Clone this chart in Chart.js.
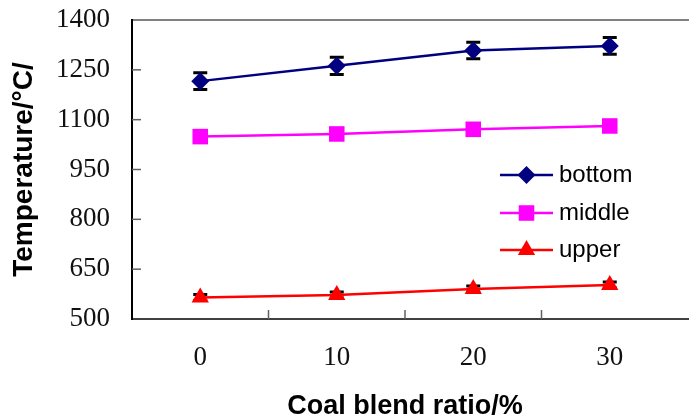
<!DOCTYPE html>
<html>
<head>
<meta charset="utf-8">
<script src="https://cdn.jsdelivr.net/npm/chart.js@4"></script>
<style>
  html, body { margin: 0; padding: 0; background: #fff; }
  #wrap { width: 689px; height: 417px; }
</style>
</head>
<body>
<div id="wrap"><canvas id="tempChart"></canvas></div>
<script>
const categories = ['0', '10', '20', '30'];
const seriesNames = ['bottom', 'middle', 'upper'];
const bottomTemp = [1216, 1262, 1308, 1322];
const middleTemp = [1049, 1057, 1071, 1081];
const upperTemp = [565, 572, 590, 602];
const bottomErr = [25, 26, 25, 25];
const middleErr = [10, 10, 10, 10];
const upperErr = [9, 9, 9, 9];
const yMin = 500, yMax = 1400, yStep = 150;

const errors = [bottomErr, middleErr, upperErr];

// error bars, drawn under the markers
const errorBars = {
  id: 'errorBars',
  beforeDatasetsDraw(chart) {
    const ctx = chart.ctx;
    const y = chart.scales.y;
    ctx.save();
    ctx.strokeStyle = '#000';
    chart.data.datasets.forEach((ds, i) => {
      const meta = chart.getDatasetMeta(i);
      meta.data.forEach((pt, j) => {
        const v = ds.data[j], e = errors[i][j];
        const top = y.getPixelForValue(v + e);
        const bot = y.getPixelForValue(v - e);
        ctx.lineWidth = 2;
        ctx.beginPath();
        ctx.moveTo(pt.x, top); ctx.lineTo(pt.x, bot);
        ctx.stroke();
        ctx.lineWidth = 3;
        ctx.beginPath();
        ctx.moveTo(pt.x - 7, top); ctx.lineTo(pt.x + 7, top);
        ctx.moveTo(pt.x - 7, bot); ctx.lineTo(pt.x + 7, bot);
        ctx.stroke();
      });
    });
    ctx.restore();
  }
};

// frame lines and inward tick marks
const frame = {
  id: 'frame',
  beforeDatasetsDraw(chart) {
    const ctx = chart.ctx;
    const a = chart.chartArea;
    const x = chart.scales.x, y = chart.scales.y;
    ctx.save();
    // top line
    ctx.strokeStyle = '#808080';
    ctx.lineWidth = 2;
    ctx.beginPath();
    ctx.moveTo(a.left, a.top); ctx.lineTo(chart.width, a.top);
    ctx.stroke();
    // bottom axis
    ctx.strokeStyle = '#404040';
    ctx.beginPath();
    ctx.moveTo(a.left, a.bottom); ctx.lineTo(chart.width, a.bottom);
    ctx.stroke();
    // left axis
    ctx.strokeStyle = '#000';
    ctx.beginPath();
    ctx.moveTo(a.left, a.top - 1); ctx.lineTo(a.left, a.bottom + 1);
    ctx.stroke();
    // y ticks
    ctx.strokeStyle = '#606060';
    ctx.lineWidth = 1.5;
    y.ticks.forEach(t => {
      if (t.value <= yMin || t.value >= yMax) return;
      const py = y.getPixelForValue(t.value);
      ctx.beginPath();
      ctx.moveTo(a.left, py); ctx.lineTo(a.left + 9, py);
      ctx.stroke();
    });
    // x ticks between categories
    for (let i = 0; i < categories.length - 1; i++) {
      const px = (x.getPixelForValue(i) + x.getPixelForValue(i + 1)) / 2;
      ctx.beginPath();
      ctx.moveTo(px, a.bottom); ctx.lineTo(px, a.bottom - 9);
      ctx.stroke();
    }
    ctx.restore();
  }
};

// legend inside the plot
const innerLegend = {
  id: 'innerLegend',
  afterDatasetsDraw(chart) {
    const ctx = chart.ctx;
    const x0 = 500, x1 = 553, rows = [175, 213, 250];
    ctx.save();
    chart.data.datasets.forEach((ds, i) => {
      const yy = rows[i];
      ctx.strokeStyle = ds.borderColor;
      ctx.lineWidth = 2.5;
      ctx.beginPath();
      ctx.moveTo(x0, yy); ctx.lineTo(x1, yy);
      ctx.stroke();
      ctx.fillStyle = ds.pointBackgroundColor;
      ctx.strokeStyle = ds.pointBackgroundColor;
      Chart.helpers.drawPoint(ctx, {
        pointStyle: ds.pointStyle, radius: ds.pointRadius, borderWidth: 0, rotation: 0
      }, (x0 + x1) / 2, yy);
      ctx.fillStyle = '#000';
      ctx.font = '24px "Liberation Sans", Arial, sans-serif';
      ctx.textBaseline = 'middle';
      ctx.textAlign = 'left';
      ctx.fillText(ds.label, 559, yy);
    });
    ctx.restore();
  }
};

const mk = (label, data, color, style, r) => ({
  label: label,
  data: data,
  borderColor: color,
  backgroundColor: color,
  pointBackgroundColor: color,
  pointBorderColor: color,
  pointBorderWidth: 0,
  pointStyle: style,
  pointRadius: r,
  pointHoverRadius: r,
  borderWidth: 2.5,
  tension: 0
});

new Chart(document.getElementById('tempChart'), {
  type: 'line',
  data: {
    labels: categories,
    datasets: [
      mk(seriesNames[0], bottomTemp, '#000080', 'rectRot', 9),
      mk(seriesNames[1], middleTemp, '#FF00FF', 'rect', 11),
      mk(seriesNames[2], upperTemp, '#FF0000', 'triangle', 10)
    ]
  },
  options: {
    responsive: true,
    maintainAspectRatio: false,
    animation: false,
    events: [],
    layout: { padding: { left: 0, right: 7, top: 20, bottom: 0 } },
    plugins: { legend: { display: false }, tooltip: { enabled: false } },
    scales: {
      x: {
        offset: true,
        grid: { display: false, drawTicks: false },
        border: { display: false },
        ticks: {
          color: '#111',
          padding: 23,
          font: { family: '"Liberation Serif", "Times New Roman", serif', size: 27 }
        },
        title: {
          display: true,
          text: 'Coal blend ratio/%',
          color: '#000',
          padding: { top: 0, bottom: 0 },
          font: { family: '"Liberation Sans", Arial, sans-serif', size: 27, weight: 'bold', lineHeight: 0.8 }
        },
        afterFit(s) { s.height = 98; }
      },
      y: {
        min: yMin,
        max: yMax,
        grid: { display: false, drawTicks: false },
        border: { display: false },
        ticks: {
          stepSize: yStep,
          color: '#111',
          padding: 22,
          callback: v => String(v),
          font: { family: '"Liberation Serif", "Times New Roman", serif', size: 27 }
        },
        title: {
          display: true,
          text: 'Temperature/°C/',
          color: '#000',
          padding: { top: 10, bottom: 0 },
          font: { family: '"Liberation Sans", Arial, sans-serif', size: 28, weight: 'bold', lineHeight: 1 }
        },
        afterFit(s) { s.width = 132; s.paddingTop = 0; s.paddingBottom = 0; }
      }
    }
  },
  plugins: [frame, errorBars, innerLegend]
});
</script>
</body>
</html>
